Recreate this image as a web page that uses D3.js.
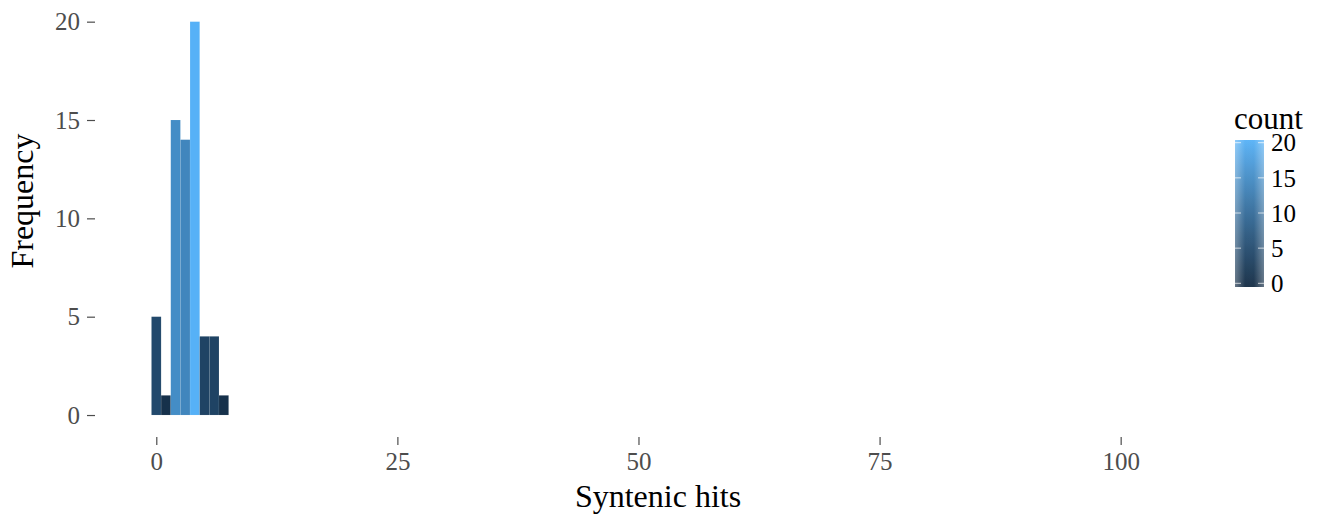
<!DOCTYPE html>
<html>
<head>
<meta charset="utf-8">
<script src="https://cdn.jsdelivr.net/npm/d3@7"></script>
<style>
  body { margin: 0; background: #fff; }
  svg { display: block; }
</style>
</head>
<body>
<svg id="chart" width="1323" height="518"></svg>
<script>
// ---- data ----
const bins = [0, 1, 2, 3, 4, 5, 6, 7];          // Syntenic hits (bin centres, binwidth 1)
const counts = [5, 1, 15, 14, 20, 4, 4, 1];    // Frequency
const xTicks = [0, 25, 50, 75, 100];
const yTicks = [0, 5, 10, 15, 20];
const legendTicks = [0, 5, 10, 15, 20];
const colorLow = "#132B43", colorHigh = "#56B1F7";

const svg = d3.select("#chart");
const serif = "'Liberation Serif', 'DejaVu Serif', serif";

const x = d3.scaleLinear().domain([-6.2, 110]).range([96.5, 1217.1]);
const y = d3.scaleLinear().domain([-1, 21]).range([434.7, 2]);
const color = d3.scaleLinear().domain([0, 20]).range([colorLow, colorHigh]).interpolate(d3.interpolateLab);

// bars
svg.append("g").selectAll("rect").data(bins).join("rect")
  .attr("x", (d) => x(d - 0.5))
  .attr("width", (d) => x(d + 0.5) - x(d - 0.5))
  .attr("y", (d, i) => y(counts[i]))
  .attr("height", (d, i) => y(0) - y(counts[i]))
  .attr("fill", (d, i) => color(counts[i]))
  .attr("stroke", "#ffffff").attr("stroke-opacity", 0.15).attr("stroke-width", 0.5);

// x axis
const gx = svg.append("g").attr("transform", "translate(0,437)")
  .call(d3.axisBottom(x).tickValues(xTicks).tickSize(8).tickPadding(7));
gx.select(".domain").remove();
gx.selectAll(".tick line").attr("stroke", "#4d4d4d").attr("stroke-width", 1.2);
gx.selectAll(".tick text").attr("fill", "#4d4d4d").style("font-family", serif).style("font-size", "25px");

// y axis
const gy = svg.append("g").attr("transform", "translate(95,0)")
  .call(d3.axisLeft(y).tickValues(yTicks).tickSize(8).tickPadding(7));
gy.select(".domain").remove();
gy.selectAll(".tick line").attr("stroke", "#4d4d4d").attr("stroke-width", 1.2);
gy.selectAll(".tick text").attr("fill", "#4d4d4d").style("font-family", serif).style("font-size", "25px");

// axis titles
svg.append("text").attr("x", 658).attr("y", 507).attr("text-anchor", "middle")
  .style("font-family", serif).style("font-size", "32px").attr("fill", "#000").text("Syntenic hits");
svg.append("text").attr("transform", "translate(33,201) rotate(-90)").attr("text-anchor", "middle")
  .style("font-family", serif).style("font-size", "32px").attr("fill", "#000").text("Frequency");

// legend
const ly = d3.scaleLinear().domain([0, 20]).range([283.3, 142.7]);
const defs = svg.append("defs");
const grad = defs.append("linearGradient").attr("id", "lg").attr("x1", 0).attr("y1", 1).attr("x2", 0).attr("y2", 0);
d3.range(0, 21).forEach((v) => {
  grad.append("stop").attr("offset", v / 20).attr("stop-color", color(v));
});
const side = defs.append("linearGradient").attr("id", "side").attr("x1", 0).attr("y1", 0).attr("x2", 1).attr("y2", 0);
side.append("stop").attr("offset", 0).attr("stop-color", "#fff").attr("stop-opacity", 0.35);
side.append("stop").attr("offset", 0.35).attr("stop-color", "#fff").attr("stop-opacity", 0.05);
side.append("stop").attr("offset", 0.65).attr("stop-color", "#fff").attr("stop-opacity", 0.05);
side.append("stop").attr("offset", 1).attr("stop-color", "#fff").attr("stop-opacity", 0.35);

const lx0 = 1235, lw = 29;
svg.append("rect").attr("x", lx0).attr("y", 140).attr("width", lw).attr("height", 147).attr("fill", "url(#lg)");
svg.append("rect").attr("x", lx0).attr("y", 140).attr("width", lw).attr("height", 147).attr("fill", "url(#side)");
const lt = svg.append("g");
lt.selectAll("line.l").data(legendTicks).join("line").attr("class", "l")
  .attr("x1", lx0).attr("x2", lx0 + 6).attr("y1", (d) => ly(d)).attr("y2", (d) => ly(d))
  .attr("stroke", "#fff").attr("stroke-opacity", 0.7).attr("stroke-width", 1);
lt.selectAll("line.r").data(legendTicks).join("line").attr("class", "r")
  .attr("x1", lx0 + lw - 6).attr("x2", lx0 + lw).attr("y1", (d) => ly(d)).attr("y2", (d) => ly(d))
  .attr("stroke", "#fff").attr("stroke-opacity", 0.7).attr("stroke-width", 1);
lt.selectAll("text").data(legendTicks).join("text")
  .attr("x", 1271).attr("y", (d) => ly(d)).attr("dy", "0.35em")
  .style("font-family", serif).style("font-size", "25px").attr("fill", "#000").text((d) => d);
svg.append("text").attr("x", 1234).attr("y", 129)
  .style("font-family", serif).style("font-size", "31px").attr("fill", "#000").text("count");
</script>
</body>
</html>
